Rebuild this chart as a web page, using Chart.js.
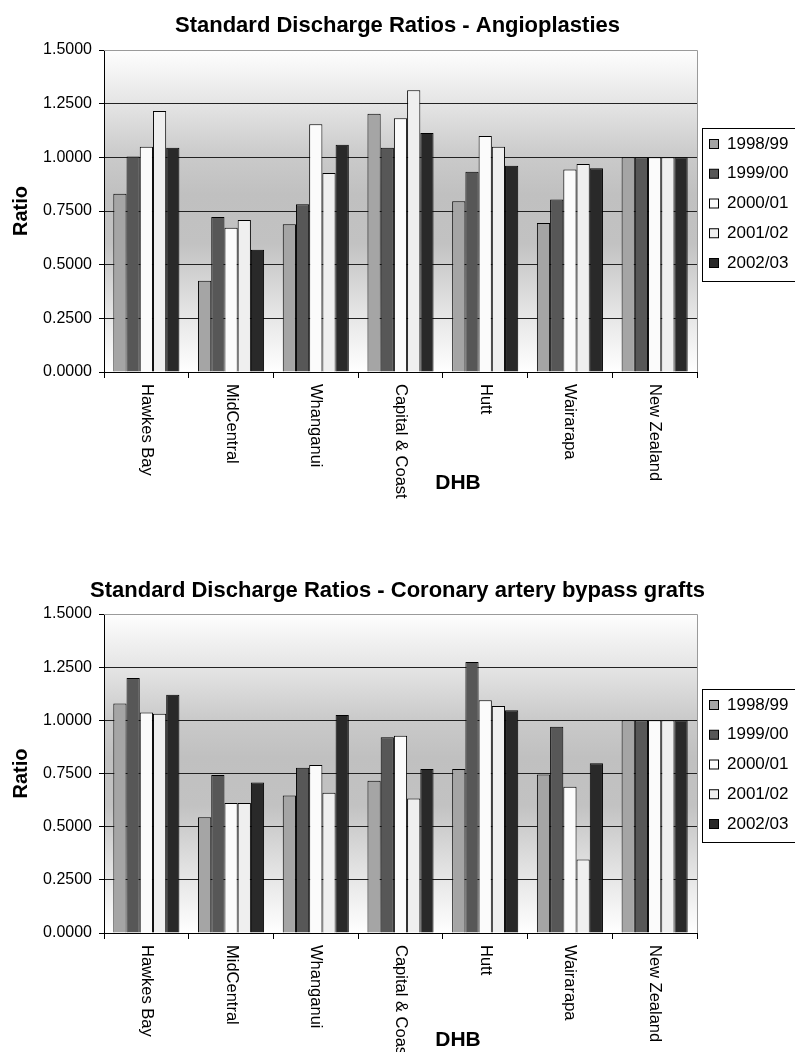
<!DOCTYPE html>
<html><head><meta charset="utf-8">
<script src="https://cdn.jsdelivr.net/npm/chart.js@4.4.0/dist/chart.umd.min.js"></script>
<style>
html,body{margin:0;padding:0;background:#fff;overflow:hidden;width:795px;height:1052px;}
canvas{position:absolute;left:0;display:block;}
</style></head><body>
<canvas id="c1" width="795" height="540" style="top:0"></canvas>
<canvas id="c2" width="795" height="487" style="top:565px"></canvas>
<script>
// ---- data ----
const categories = ['Hawkes Bay','MidCentral','Whanganui','Capital & Coast','Hutt','Wairarapa','New Zealand'];
const seriesLabels = ['1998/99','1999/00','2000/01','2001/02','2002/03'];
const yTickMin = 0, yTickMax = 1.5, yTickStep = 0.25;

// Angioplasties
const angio9899 = [0.830, 0.425, 0.688, 1.203, 0.796, 0.694, 1.000];
const angio9900 = [1.004, 0.722, 0.782, 1.045, 0.933, 0.803, 1.000];
const angio0001 = [1.049, 0.672, 1.154, 1.182, 1.099, 0.943, 1.000];
const angio0102 = [1.216, 0.708, 0.927, 1.313, 1.049, 0.969, 1.000];
const angio0203 = [1.045, 0.570, 1.059, 1.113, 0.961, 0.949, 1.000];

// Coronary artery bypass grafts
const cabg9899 = [1.079, 0.544, 0.646, 0.716, 0.771, 0.745, 1.000];
const cabg9900 = [1.199, 0.743, 0.777, 0.921, 1.274, 0.970, 1.000];
const cabg0001 = [1.037, 0.611, 0.790, 0.928, 1.095, 0.688, 1.000];
const cabg0102 = [1.031, 0.611, 0.659, 0.632, 1.067, 0.346, 1.000];
const cabg0203 = [1.120, 0.708, 1.025, 0.771, 1.047, 0.798, 1.000];

// ---- styles ----
const seriesColors = ['#a5a5a5','#575757','#fbfbfb','#efefef','#292929'];
const FONT = '"Liberation Sans", Arial, Helvetica, sans-serif';
Chart.defaults.font.family = FONT;
Chart.defaults.color = '#000';

function makeChart(id, titleText, series, cfg) {
  const ctxEl = document.getElementById(id);
  const H = ctxEl.height;
  const decor = {
    id: 'decor_' + id,
    beforeDraw(chart) {
      const {ctx, chartArea: a} = chart;
      const g = ctx.createLinearGradient(0, a.top, 0, a.bottom);
      g.addColorStop(0, '#fefefe');
      g.addColorStop(0.17, '#e4e4e4');
      g.addColorStop(0.33, '#cacaca');
      g.addColorStop(0.45, '#c0c0c0');
      g.addColorStop(0.6, '#c2c2c2');
      g.addColorStop(0.8, '#e2e2e2');
      g.addColorStop(1, '#ffffff');
      ctx.save();
      ctx.fillStyle = g;
      ctx.fillRect(a.left, a.top, a.right - a.left, a.bottom - a.top);
      ctx.restore();
    },
    afterDraw(chart) {
      const {ctx, chartArea: a} = chart;
      const xs = chart.scales.x;
      ctx.save();
      // top & right frame
      ctx.strokeStyle = '#9a9a9a';
      ctx.lineWidth = 1;
      ctx.beginPath();
      ctx.moveTo(a.left, a.top + 0.5);
      ctx.lineTo(a.right + 0.5, a.top + 0.5);
      ctx.lineTo(a.right + 0.5, a.bottom);
      ctx.stroke();
      // category labels, rotated to read top to bottom
      ctx.fillStyle = '#000';
      ctx.font = '16.5px ' + FONT;
      ctx.textAlign = 'left';
      ctx.textBaseline = 'middle';
      categories.forEach((c, i) => {
        const x = xs.getPixelForValue(i);
        ctx.save();
        ctx.translate(x, a.bottom + 12);
        ctx.rotate(Math.PI / 2);
        ctx.fillText(c, 0, 0);
        ctx.restore();
      });
      // x axis title
      ctx.font = 'bold 21px ' + FONT;
      ctx.textAlign = 'center';
      ctx.textBaseline = 'middle';
      ctx.fillText('DHB', 458, a.bottom + cfg.dhbOffset);
      // legend
      const lx = 702.5, ly = cfg.legendTop + 0.5, lh = 153;
      ctx.fillStyle = '#fff';
      ctx.fillRect(lx, ly, 120, lh);
      ctx.strokeStyle = '#000';
      ctx.strokeRect(lx, ly, 120, lh);
      ctx.font = '17px ' + FONT;
      ctx.textAlign = 'left';
      chart.data.datasets.forEach((ds, i) => {
        const cy = cfg.legendTop + 16 + i * 29.75;
        ctx.fillStyle = ds.backgroundColor;
        ctx.fillRect(709.5, cy - 4.5, 9, 9);
        ctx.strokeStyle = '#000';
        ctx.strokeRect(709.5, cy - 4.5, 9, 9);
        ctx.fillStyle = '#000';
        ctx.fillText(ds.label, 727, cy);
      });
      ctx.restore();
    }
  };
  return new Chart(ctxEl, {
    type: 'bar',
    data: {
      labels: categories,
      datasets: series.map((d, i) => ({
        label: seriesLabels[i],
        data: d,
        backgroundColor: seriesColors[i],
        borderColor: '#000',
        borderWidth: 1,
        borderSkipped: 'bottom',
        categoryPercentage: 0.78,
        barPercentage: 1.0
      }))
    },
    options: {
      responsive: false,
      animation: false,
      layout: {padding: 0},
      plugins: {
        legend: {display: false},
        tooltip: {enabled: false},
        title: {
          display: true,
          text: titleText,
          font: {size: 22, weight: 'bold'},
          color: '#000',
          padding: {top: cfg.titleTop, bottom: cfg.titleBottom}
        }
      },
      scales: {
        x: {
          offset: true,
          grid: {display: true, drawOnChartArea: false, drawTicks: true, tickLength: 6, color: '#000', offset: true},
          border: {display: true, color: '#000', width: 1},
          ticks: {display: false},
          afterFit: s => { s.height = H - cfg.plotBottom; }
        },
        y: {
          min: yTickMin, max: yTickMax,
          grid: {
            color: c => (c.tick && c.tick.value === yTickMax) ? '#9a9a9a' : '#222',
            tickColor: '#000',
            tickLength: 5,
            lineWidth: 1
          },
          border: {display: true, color: '#000', width: 1},
          ticks: {stepSize: yTickStep, padding: 7, font: {size: 16}, color: '#000',
                  callback: v => Number(v).toFixed(4)},
          title: {display: true, text: 'Ratio', font: {size: 20, weight: 'bold'}, color: '#000', padding: {top: 9, bottom: 0}},
          afterFit: s => { s.width = 104; }
        },
        yR: {
          position: 'right',
          display: true,
          grid: {display: false},
          border: {display: false},
          ticks: {display: false},
          afterFit: s => { s.width = 98; }
        }
      }
    },
    plugins: [decor]
  });
}

makeChart('c1', 'Standard Discharge Ratios - Angioplasties',
  [angio9899, angio9900, angio0001, angio0102, angio0203],
  {titleTop: 12.8, titleBottom: 10.8, plotBottom: 372, legendTop: 128, dhbOffset: 111});
makeChart('c2', 'Standard Discharge Ratios - Coronary artery bypass grafts',
  [cabg9899, cabg9900, cabg0001, cabg0102, cabg0203],
  {titleTop: 12.8, titleBottom: 9.8, plotBottom: 368, legendTop: 124, dhbOffset: 107});
</script>
</body></html>
